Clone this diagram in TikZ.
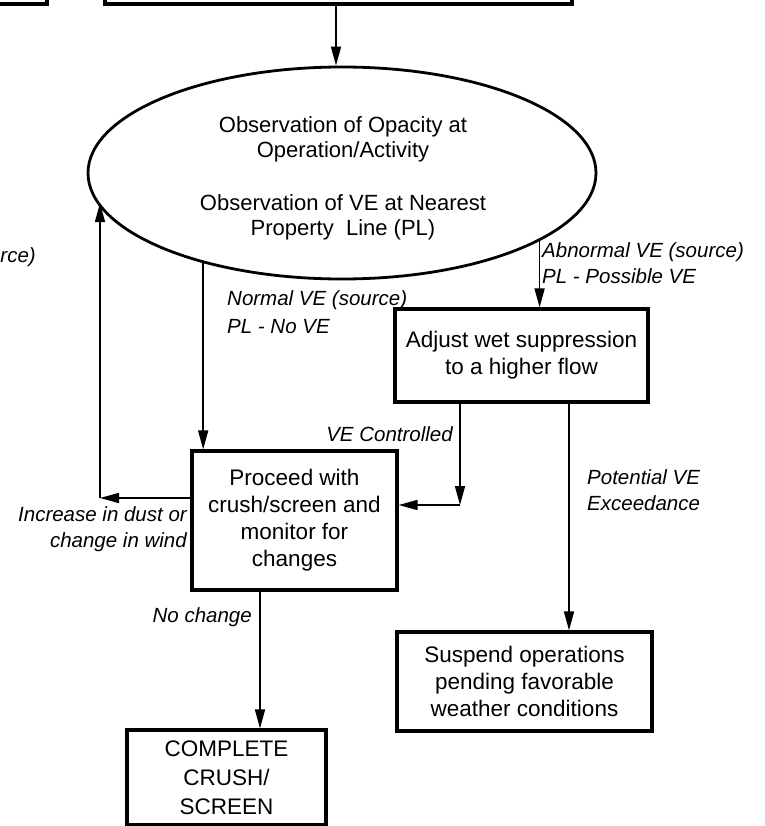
\documentclass[tikz,border=0pt]{standalone}
\usepackage{fontspec}
\setmainfont{Liberation Sans}
\usetikzlibrary{arrows.meta,shapes.geometric}

\begin{document}
\begin{tikzpicture}[x=1pt,y=-1pt,
  box/.style={draw, line width=3.2pt, inner sep=0pt, align=center,
    font=\fontsize{22.5}{27}\selectfont},
  arr/.style={-{Triangle[length=19pt,width=10pt]}, line width=1.6pt},
  lbl/.style={inner sep=0pt, align=left,
    font=\fontsize{20.5}{26}\selectfont\itshape},
]
\useasboundingbox (0,0) rectangle (764,826);
\clip (0,0) rectangle (764,826);

% boxes continuing from the previous page
\node[box, minimum width=150, minimum height=64] (prevl) at (-28,-28) {};
\node[box, minimum width=467, minimum height=64] (prevm) at (338.5,-28) {};

% observation ellipse
\node[draw, ellipse, line width=2.8pt, minimum width=508, minimum height=212,
  inner sep=0pt] (ell) at (342,173) {};
\node[inner sep=0pt, align=center, font=\fontsize{22}{25}\selectfont] (elltxt)
  at (343,178) {Observation of Opacity at\\Operation/Activity\\[28pt]
  Observation of VE at Nearest\\Property\ \ Line (PL)};

% action boxes
\node[box, minimum width=253, minimum height=93] (adj) at (521.5,355.5)
  {Adjust wet suppression\\to a higher flow};
\node[box, minimum width=205, minimum height=139] (proc) at (294.5,520.5)
  {Proceed with\\crush/screen and\\monitor for\\changes};
\node[box, minimum width=255, minimum height=99] (susp) at (524.5,681.5)
  {Suspend operations\\pending favorable\\weather conditions};
\node[box, minimum width=199, minimum height=95,
  font=\fontsize{22.5}{29}\selectfont] (comp) at (226.5,777.5)
  {COMPLETE\\CRUSH/\\SCREEN};

% routing points
\coordinate (top) at (336,100);
\coordinate (fbk) at (100,498);
\coordinate (vej) at (460,505);
\coordinate (pv) at (569,560);
\coordinate (nc) at (260,650);

% connectors
\draw[arr] (top |- prevm.south) -- (top |- ell.north);
\draw[arr] (ell.-19.9) -- (ell.-19.9 |- adj.north);
\draw[arr] (ell.213.9) -- (ell.213.9 |- proc.north);
\draw[arr] (proc.west |- fbk) -- (fbk);
\draw[arr] (fbk) -- (fbk |- ell.187.6);
\draw[arr] (adj.south -| vej) -- (vej);
\draw[arr] (vej) -- (proc.east |- vej);
\draw[arr] (adj.south -| pv) -- (susp.north -| pv);
\draw[arr] (proc.south -| nc) -- (comp.north -| nc);

% connector labels (base anchor sits on the last line)
\node[lbl, anchor=base east] (lsrc) at (36,262) {rce)};
\node[lbl, anchor=base west] (labn) at (542,283)
  {Abnormal VE (source)\\PL - Possible VE};
\node[lbl, anchor=base west] (lnorm) at (227,333)
  {Normal VE (source)\\[2pt]PL - No VE};
\node[lbl, anchor=base east] (lvec) at (453,441) {VE Controlled};
\node[lbl, anchor=base east, align=right] (linc) at (187,547)
  {Increase in dust or\\change in wind};
\node[lbl, anchor=base west] (lpot) at (587,510) {Potential VE\\Exceedance};
\node[lbl, anchor=base east] (lnc) at (252,622) {No change};
\end{tikzpicture}
\end{document}
